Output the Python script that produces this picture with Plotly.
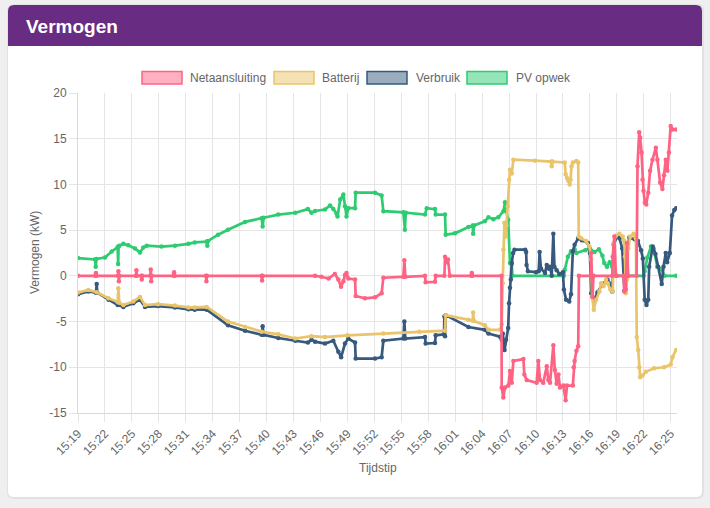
import pandas as pd
import plotly.graph_objects as go

# ---------------- data (minutes after 15:19, kW) ----------------
pv = [(0, 1.95), (1.9, 1.8), (1.97, 1.0), (2.0, 1.8), (2.05, 1.85), (3.0, 2.0), (3.75, 2.67), (4.42, 3.15),
      (4.47, 1.3), (4.52, 3.2), (4.6, 3.3), (5.05, 3.5), (5.6, 3.35), (6.35, 3.0), (6.9, 2.56), (7.27, 3.1),
      (7.65, 3.3), (9.3, 3.2), (10.8, 3.3), (12.3, 3.5), (13.0, 3.66), (14.33, 3.75), (14.4, 3.3), (14.47, 3.8),
      (15.6, 4.5), (16.7, 5.05), (18.6, 5.9), (20.45, 6.3), (20.56, 5.4), (20.67, 6.35), (22.3, 6.7), (24.2, 6.9),
      (25.6, 7.3), (26.0, 6.9), (26.4, 7.1), (27.5, 7.25), (28.07, 7.7), (28.43, 7.3), (28.8, 6.8), (28.9, 6.5),
      (29.2, 8.35), (29.55, 8.9), (29.73, 7.6), (29.9, 6.5), (30.1, 7.4), (30.85, 7.4), (30.92, 9.1), (33.07, 9.1),
      (33.81, 8.8), (34.0, 7.07), (36.23, 6.95), (36.4, 5.05), (36.5, 6.9), (38.64, 6.7), (38.83, 7.4), (39.75, 7.3),
      (39.83, 6.7), (40.87, 6.7), (40.94, 4.5), (41.98, 4.65), (43.47, 5.35), (43.95, 5.5), (44.0, 4.6), (44.1, 5.5),
      (45.3, 5.97), (45.7, 6.4), (46.25, 6.2), (46.8, 6.4), (47.37, 7.07), (47.55, 8.05), (47.66, 7.2), (47.9, 6.15),
      (48.1, 1.4), (48.3, 1.3), (48.37, 0), (54.1, 0), (54.2, 0.66), (54.55, 2.1), (54.9, 2.7), (55.3, 2.9),
      (55.5, 2.5), (56.5, 2.8), (57.0, 3.0), (57.5, 2.6), (58.0, 2.9), (58.4, 2.2), (58.6, 1.4), (58.9, 1.0),
      (59.2, 1.5), (59.5, 1.0), (60.0, 0), (63.0, 0), (63.1, 0.5), (63.4, 2.0), (63.8, 3.2), (64.1, 3.0),
      (64.5, 1.0), (65.0, 0.7), (65.3, 0), (66.6, 0)]

net = [(0, 0), (1.95, 0), (2.0, 0.3), (2.05, 0), (4.45, 0), (4.5, 0.5), (4.55, -0.6), (4.6, 0), (6.45, 0),
       (6.5, 0.6), (6.55, 0), (7.05, 0), (7.1, -0.4), (7.15, 0), (8.05, 0), (8.1, 0.7), (8.15, -0.6), (8.2, 0),
       (10.65, 0), (10.7, 0.4), (10.75, 0), (14.25, 0), (14.3, -0.6), (14.35, 0), (20.45, 0), (20.5, -0.5),
       (20.55, 0), (26.4, 0), (27.1, -0.1), (27.9, -0.3), (28.6, 0.2), (28.99, -0.4), (29.29, -1.2), (29.55, -0.6),
       (29.73, 0.1), (29.9, 0.3), (30.1, -0.3), (30.85, -0.4), (30.92, -2.2), (31.96, -2.45), (33.07, -2.35),
       (33.81, -1.9), (34.0, -0.2), (36.23, -0.1), (36.34, 1.7), (36.45, -0.1), (38.64, 0), (38.71, -0.7),
       (39.75, -0.65), (39.83, 0), (40.8, 0), (40.87, 2.1), (41.05, 1.5), (41.2, 1.8), (41.4, 0), (43.8, 0),
       (43.85, 0.3), (43.9, 0), (47.15, 0), (47.18, -12.2), (47.36, -13.3), (47.55, -12.2), (47.92, -12.0),
       (48.1, -10.4), (48.3, -11.7), (48.48, -9.3), (49.6, -9.1), (49.7, -10.8), (49.96, -11.4), (51.07, -11.7),
       (51.26, -9.3), (51.45, -11.4), (51.8, -11.7), (52.2, -9.9), (52.37, -11.4), (52.56, -11.7), (52.93, -7.6),
       (53.1, -10.3), (53.3, -11.8), (53.5, -10.8), (53.67, -12.2), (54.04, -12.0), (54.3, -13.6), (54.45, -12.0),
       (55.1, -12.0), (55.2, -10.0), (55.3, -9.3), (55.5, -8.2), (55.7, -7.7), (55.78, 0), (57.1, 0), (57.14, 2.5),
       (57.3, -2.3), (57.4, 0), (59.5, 0), (59.54, 2.1), (59.72, 4.3), (59.9, 0), (60.75, 0), (60.83, -1.7),
       (61.0, -1.5), (61.13, 3.6), (61.27, 0), (62.2, 0), (62.3, 12.0), (62.49, 15.7), (62.6, 15.1), (62.75, 13.5),
       (62.86, 10.5), (62.97, 9.3), (63.12, 8.0), (63.27, 7.8), (63.5, 9.1), (63.7, 11.5), (63.97, 12.7),
       (64.34, 14.0), (64.52, 12.7), (64.82, 10.2), (65.08, 9.5), (65.26, 11.0), (65.45, 12.7), (65.63, 11.5),
       (65.8, 13.5), (66.0, 16.4), (66.19, 16.0), (66.6, 16.0)]

batterij = [(0, -1.83), (1.15, -1.54), (2.08, -1.8), (3.4, -2.45), (4.42, -2.85), (4.49, -1.35), (4.6, -2.95),
            (5.05, -3.2), (6.16, -2.8), (6.9, -2.3), (7.46, -3.2), (8.9, -3.1), (10.8, -3.25), (12.3, -3.45),
            (13.0, -3.45), (14.33, -3.4), (16.7, -5.0), (18.6, -5.6), (20.45, -6.1), (22.3, -6.4), (24.2, -6.85),
            (26.0, -6.6), (27.5, -6.7), (30.0, -6.5), (34.0, -6.3), (38.0, -6.1), (40.87, -6.0), (40.94, -4.3),
            (43.47, -4.8), (43.95, -4.9), (44.0, -4.0), (44.1, -4.95), (45.3, -5.4), (45.7, -5.9), (47.0, -5.9),
            (47.18, -5.3), (47.29, -0.8), (47.37, 2.86), (47.48, 5.8), (47.63, 4.3), (47.7, 5.5), (47.85, 7.6),
            (48.0, 10.5), (48.1, 11.6), (48.3, 11.2), (48.48, 12.7), (50.9, 12.6), (52.7, 12.5), (52.75, 12.0),
            (52.85, 12.5), (54.2, 12.4), (54.3, 11.1), (54.45, 10.7), (54.6, 10.4), (54.75, 10.0), (54.85, 10.5),
            (54.95, 12.0), (55.1, 12.4), (55.5, 12.55), (55.7, 12.4), (55.76, 4.3), (56.03, 4.1), (56.58, 3.8),
            (56.95, 3.2), (57.14, 1.8), (57.25, -2.3), (57.43, -3.7), (57.7, -2.6), (58.06, -1.7), (58.25, -0.8),
            (58.54, -1.1), (58.8, -0.4), (58.99, -0.8), (59.28, -1.5), (59.54, -1.7), (59.65, 3.6), (59.9, 4.4),
            (60.28, 4.6), (60.65, 4.3), (60.83, 3.8), (60.9, 2.1), (61.0, -1.9), (61.13, -0.4), (61.27, 3.0),
            (61.5, 4.3), (61.87, 4.6), (62.12, 4.1), (62.22, -6.7), (62.38, -8.1), (62.49, -10.0), (62.6, -11.1),
            (62.86, -10.9), (63.23, -10.5), (64.15, -10.1), (65.26, -10.0), (66.0, -9.7), (66.19, -8.9),
            (66.6, -8.1)]

verbruik = [(0, -2.0), (1.15, -1.7), (2.0, -1.85), (2.08, -0.9), (2.15, -1.85), (3.4, -2.6), (4.42, -3.2),
            (5.05, -3.4), (6.16, -3.0), (6.9, -2.6), (7.46, -3.4), (8.9, -3.3), (10.8, -3.45), (12.3, -3.66),
            (13.0, -3.7), (14.33, -3.7), (16.7, -5.4), (18.6, -6.0), (20.45, -6.45), (20.56, -5.5), (20.67, -6.45),
            (22.3, -6.8), (24.2, -7.1), (25.6, -7.3), (26.0, -7.0), (26.4, -7.2), (27.5, -7.4), (28.43, -7.1),
            (28.99, -8.3), (29.3, -8.9), (29.73, -7.4), (30.1, -6.85), (30.85, -7.3), (30.92, -9.05), (33.07, -9.05),
            (33.81, -8.9), (34.0, -7.1), (36.23, -6.85), (36.34, -5.0), (36.45, -6.85), (38.64, -6.7), (38.71, -7.4),
            (39.75, -7.35), (39.83, -6.5), (40.75, -6.4), (40.8, -4.45), (40.87, -6.6), (40.94, -4.3), (43.47, -5.6),
            (45.3, -5.9), (45.7, -6.3), (47.0, -6.65), (47.18, -7.0), (47.3, -6.3), (47.5, -8.1), (47.66, -7.0),
            (47.9, -5.7), (48.0, -3.0), (48.1, -1.3), (48.2, -0.4), (48.3, 1.4), (48.45, 2.5), (48.6, 2.86),
            (49.8, 2.86), (49.9, 2.6), (49.95, 1.2), (50.1, 0.5), (51.0, 0.4), (51.3, 0.5), (51.4, 2.6), (51.55, 0.8),
            (52.0, 0.3), (52.2, 1.2), (52.4, 0.8), (52.55, 1.0), (52.75, 0.0), (52.93, 4.6), (53.05, 1.0),
            (53.3, 0.6), (53.6, 0.2), (54.0, 0.4), (54.1, -1.5), (54.35, -2.6), (54.7, -2.8), (54.9, -2.0),
            (55.1, 2.7), (55.3, 3.4), (55.7, 4.1), (56.1, 3.9), (56.8, 3.6), (57.0, 2.5), (57.15, -1.9), (57.5, -2.6),
            (57.85, -1.8), (58.4, -0.9), (58.95, -0.4), (59.3, -0.9), (59.5, -1.7), (59.65, 3.4), (60.0, 4.3),
            (60.3, 4.1), (60.6, 3.0), (60.85, -1.6), (61.0, 2.0), (61.4, 4.2), (62.0, 4.0), (62.35, 3.8), (62.7, 2.8),
            (62.9, 1.9), (63.1, -2.6), (63.3, -3.2), (63.5, -2.6), (63.6, 1.0), (64.0, 3.2), (64.3, 2.4),
            (64.6, 1.0), (65.0, -0.9), (65.2, 1.0), (65.45, 2.5), (65.6, 1.5), (65.9, 2.5), (66.15, 6.6),
            (66.4, 7.2), (66.6, 7.4)]

tick_labels = ["15:19", "15:22", "15:25", "15:28", "15:31", "15:34", "15:37", "15:40", "15:43", "15:46",
               "15:49", "15:52", "15:55", "15:58", "16:01", "16:04", "16:07", "16:10", "16:13", "16:16",
               "16:19", "16:22", "16:25"]
y_ticks = [-15, -10, -5, 0, 5, 10, 15, 20]
series_names = ["Netaansluiting", "Batterij", "Verbruik", "PV opwek"]

# ---------------- styling ----------------
COLORS = {"Netaansluiting": "#ff6384", "Batterij": "#e9c46a", "Verbruik": "#36597d", "PV opwek": "#2ecc71"}
FILLS = {"Netaansluiting": "rgba(255,99,132,0.5)", "Batterij": "rgba(233,196,106,0.5)",
         "Verbruik": "rgba(54,89,125,0.5)", "PV opwek": "rgba(46,204,113,0.5)"}
FONT = "Liberation Sans, Arial, Helvetica, sans-serif"

BASE = pd.Timestamp("2024-06-01 15:19:00")


def to_time(m):
    return BASE + pd.Timedelta(minutes=m)


W, H = 710, 508
ML, MR, MT, MB = 78, 33, 93, 95
PW, PH = W - ML - MR, H - MT - MB


def px(x):
    return (x - ML) / PW


def py(y):
    return (H - MB - y) / PH


def rrect(x0, y0, x1, y1, r, top_only=False):
    rb = 0 if top_only else r
    pts = [
        f"M {px(x0 + r)},{py(y0)}",
        f"L {px(x1 - r)},{py(y0)}",
        f"Q {px(x1)},{py(y0)} {px(x1)},{py(y0 + r)}",
        f"L {px(x1)},{py(y1 - rb)}",
        f"Q {px(x1)},{py(y1)} {px(x1 - rb)},{py(y1)}",
        f"L {px(x0 + rb)},{py(y1)}",
        f"Q {px(x0)},{py(y1)} {px(x0)},{py(y1 - rb)}",
        f"L {px(x0)},{py(y0 + r)}",
        f"Q {px(x0)},{py(y0)} {px(x0 + r)},{py(y0)}",
        "Z",
    ]
    return " ".join(pts)


fig = go.Figure()

data_map = {"Netaansluiting": net, "Batterij": batterij, "Verbruik": verbruik, "PV opwek": pv}
# draw order: PV bottom, Net on top
for name in ["PV opwek", "Verbruik", "Batterij", "Netaansluiting"]:
    pts = data_map[name]
    fig.add_trace(go.Scatter(
        x=[to_time(t) for t, _ in pts], y=[v for _, v in pts],
        mode="lines+markers", name=name, showlegend=False,
        line=dict(color=COLORS[name], width=2.7),
        marker=dict(color=COLORS[name], size=4.5),
    ))

shapes = [
    dict(type="path", xref="paper", yref="paper", layer="below", path=rrect(7, 4, 704, 499, 7),
         fillcolor="#e2e2e2", line=dict(width=0)),
    dict(type="path", xref="paper", yref="paper", layer="below", path=rrect(8, 5, 702, 497, 6),
         fillcolor="#ffffff", line=dict(width=0)),
    dict(type="path", xref="paper", yref="paper", layer="below", path=rrect(8, 5, 702, 46, 6, top_only=True),
         fillcolor="#682d82", line=dict(width=0)),
]

annotations = [
    dict(text="<b>Vermogen</b>", x=px(24), y=py(26.5), xref="paper", yref="paper", xanchor="left",
         yanchor="middle", showarrow=False, font=dict(family=FONT, size=19, color="#ffffff")),
    dict(text="Vermogen (kW)", x=px(35), y=py(253), xref="paper", yref="paper", xanchor="center",
         yanchor="middle", textangle=-90, showarrow=False, font=dict(family=FONT, size=12, color="#666666")),
    dict(text="Tijdstip", x=px(378), y=py(468), xref="paper", yref="paper", xanchor="center",
         yanchor="middle", showarrow=False, font=dict(family=FONT, size=12, color="#666666")),
]

legend_pos = {"Netaansluiting": (142, 188), "Batterij": (274, 320), "Verbruik": (367, 414), "PV opwek": (467, 514)}
for name in series_names:
    bx, tx = legend_pos[name]
    shapes.append(dict(type="rect", xref="paper", yref="paper", x0=px(bx), x1=px(bx + 40), y0=py(84), y1=py(71.5),
                       fillcolor=FILLS[name], line=dict(color=COLORS[name], width=1.5), layer="above"))
    annotations.append(dict(text=name, x=px(tx), y=py(77.5), xref="paper", yref="paper", xanchor="left",
                            yanchor="middle", showarrow=False,
                            font=dict(family=FONT, size=12, color="#666666")))

tick_vals = [to_time(3 * i) for i in range(len(tick_labels))]

fig.update_layout(
    width=W, height=H,
    margin=dict(l=ML, r=MR, t=MT, b=MB, pad=0),
    paper_bgcolor="#efefef",
    plot_bgcolor="#ffffff",
    shapes=shapes,
    annotations=annotations,
    showlegend=False,
    font=dict(family=FONT, size=12, color="#666666"),
    xaxis=dict(
        type="date", range=[to_time(0), to_time(66.7)],
        tickmode="array", tickvals=tick_vals, ticktext=tick_labels, tickangle=-45,
        showgrid=True, gridcolor="#e5e5e5", gridwidth=1,
        ticks="outside", ticklen=8, tickcolor="#e5e5e5",
        showline=True, linecolor="#d9d9d9", linewidth=1,
        zeroline=False, tickfont=dict(size=12, color="#666666"),
    ),
    yaxis=dict(
        range=[-15, 20], tickmode="array", tickvals=y_ticks, ticktext=[str(v) for v in y_ticks],
        showgrid=True, gridcolor="#e5e5e5", gridwidth=1,
        ticks="outside", ticklen=8, tickcolor="#e5e5e5",
        showline=True, linecolor="#d9d9d9", linewidth=1,
        zeroline=False, tickfont=dict(size=12, color="#666666"),
    ),
)

fig.write_html("out.html")
